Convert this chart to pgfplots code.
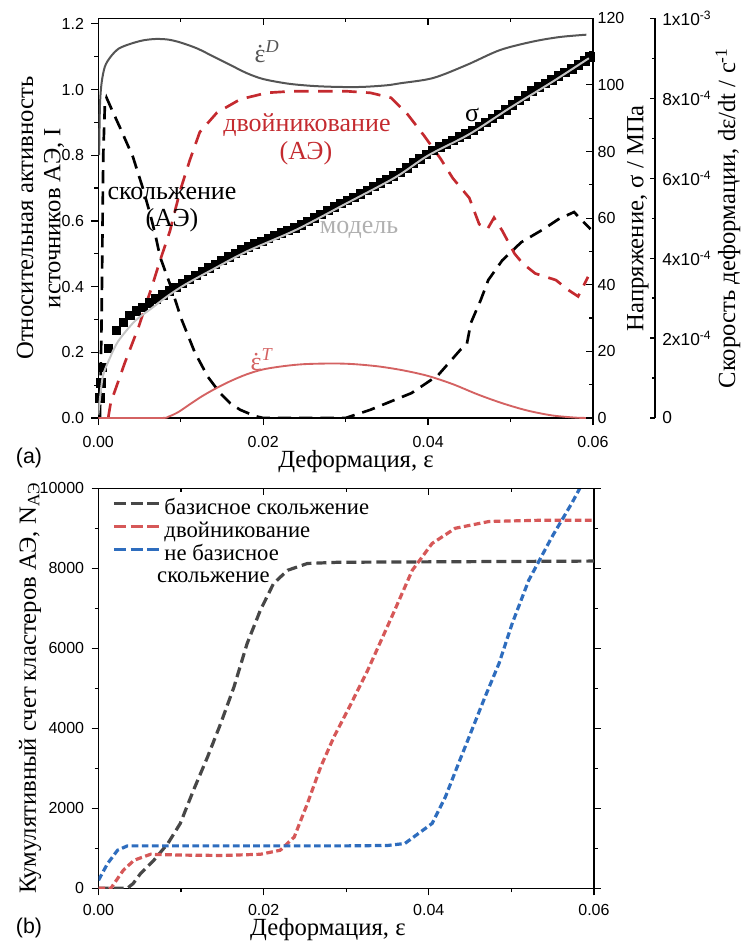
\documentclass[border=0pt]{standalone}
\usepackage{fontspec}
\setmainfont{Liberation Serif}
\newfontfamily\sansf{Liberation Sans}
\usepackage{pgfplots}
\pgfplotsset{compat=1.18}

\definecolor{dgray}{HTML}{555555}
\definecolor{tred}{HTML}{C42A2F}
\definecolor{lred}{HTML}{D46262}
\definecolor{mgray}{HTML}{C4C4C4}
\definecolor{lblgray}{HTML}{B0B0B0}
\definecolor{bblack}{HTML}{474747}
\definecolor{bred}{HTML}{D65858}
\definecolor{bblue}{HTML}{2E6DBE}

\newcommand{\lbl}{\fontsize{18.5}{20.5}\selectfont}
\newcommand{\ann}{\fontsize{19.5}{22}\selectfont}
\newcommand{\tck}{\sansf\fontsize{12}{14}\selectfont}
\newcommand{\edot}{\ooalign{ε\cr\hidewidth˙\hidewidth\cr}}

\pgfplotsset{
  base/.style={
    scale only axis, xmin=0, xmax=0.06,
    major tick length=5.25pt, minor tick length=3pt,
    axis line style={line width=0.9pt},
    every tick/.style={line width=0.9pt, black},
    tick label style={font=\tck},
    /pgf/number format/assume math mode=true,
    scaled x ticks=false, scaled y ticks=false,
    clip mode=individual,
  }
}

\begin{document}
\begin{tikzpicture}

% ---------------- (a) main axis ----------------
\begin{axis}[base,
  at={(73.725pt,-313.5pt)}, anchor=south west,
  width=371pt, height=299.8pt,
  ymin=0, ymax=1.217,
  xtick={0,0.02,0.04,0.06}, minor xtick={0.01,0.03,0.05},
  ytick={0,0.2,0.4,0.6,0.8,1.0,1.2}, minor ytick={0.1,0.3,0.5,0.7,0.9,1.1},
  xtick pos=bottom, ytick pos=left, tick align=outside,
  xticklabel style={yshift=-5pt, /pgf/number format/fixed, /pgf/number format/fixed zerofill, /pgf/number format/precision=2},
  yticklabel style={xshift=-2pt, /pgf/number format/fixed, /pgf/number format/fixed zerofill, /pgf/number format/precision=1},
  xlabel={Деформация, ε},
  xlabel style={font=\lbl, at={(axis description cs:0.521,-0.110)}, anchor=center},
  ylabel={Относительная активность\\источников АЭ, I},
  ylabel style={font=\lbl, align=center, at={(axis description cs:-0.117,0.5)}, anchor=center},
]
% strain rate D
\addplot[dgray, line width=1.5pt, smooth, tension=0.5] coordinates {
(0.0001,0.80) (0.0002,0.95) (0.0004,1.02) (0.0008,1.07) (0.0015,1.10) (0.0025,1.125)
(0.004,1.14) (0.0055,1.15) (0.007,1.154) (0.0085,1.152) (0.010,1.143) (0.012,1.125)
(0.014,1.10) (0.016,1.075) (0.018,1.05) (0.020,1.032) (0.023,1.018) (0.026,1.011)
(0.029,1.008) (0.032,1.008) (0.035,1.013) (0.0366,1.019) (0.0406,1.035) (0.0447,1.075)
(0.0487,1.12) (0.0527,1.146) (0.056,1.16) (0.0592,1.167)};
% slip AE
\addplot[black, line width=2pt, dash pattern=on 10pt off 6pt] coordinates {
(0.0002,0) (0.0004,0.3) (0.0006,0.8) (0.0008,0.955) (0.0010,0.975) (0.0018,0.93)
(0.0026,0.886) (0.0042,0.795) (0.0054,0.70) (0.0063,0.62) (0.0069,0.56) (0.0075,0.49)
(0.0088,0.40) (0.0101,0.30) (0.0117,0.20) (0.0133,0.125) (0.0148,0.075) (0.016,0.045)
(0.0172,0.025) (0.019,0.006) (0.020,0) (0.030,0) (0.033,0.025) (0.038,0.076)
(0.0412,0.13) (0.0440,0.21) (0.0447,0.225) (0.0452,0.29) (0.0464,0.36) (0.0473,0.42)
(0.049,0.48) (0.0513,0.535) (0.054,0.575) (0.0558,0.605) (0.0577,0.627) (0.0597,0.575)};
% twinning AE
\addplot[tred, line width=2pt, dash pattern=on 11pt off 7pt] coordinates {
(0.0012,0) (0.0015,0.046) (0.0032,0.167) (0.0049,0.278) (0.0065,0.40) (0.0075,0.48)
(0.0087,0.57) (0.0099,0.69) (0.0111,0.785) (0.0123,0.87) (0.0144,0.93) (0.0172,0.97)
(0.0204,0.99) (0.0236,0.995) (0.030,0.995) (0.0330,0.99) (0.0355,0.975) (0.0375,0.925)
(0.0395,0.86) (0.0415,0.79) (0.0430,0.73) (0.0450,0.67) (0.0462,0.59) (0.0472,0.575)
(0.0480,0.61) (0.0490,0.57) (0.0505,0.50) (0.0515,0.47) (0.0530,0.44) (0.0555,0.42)
(0.0570,0.39) (0.0582,0.37) (0.0594,0.43)};
% strain rate T
\addplot[lred, line width=1.4pt, smooth, tension=0.5] coordinates {
(0,0) (0.0075,0) (0.0085,0.004) (0.0097,0.018) (0.011,0.04) (0.0125,0.065) (0.0141,0.088)
(0.016,0.112) (0.018,0.133) (0.020,0.148) (0.0225,0.158) (0.025,0.164) (0.0285,0.166)
(0.031,0.164) (0.034,0.157) (0.037,0.145) (0.040,0.128) (0.043,0.103) (0.046,0.072)
(0.049,0.045) (0.052,0.023) (0.055,0.008) (0.058,0.001) (0.06,0)};

\node[font=\ann, text=dgray, inner sep=0] at (axis cs:0.02046,1.115) {\edot\textsuperscript{\textit{D}}};
\node[font=\ann, text=tred, inner sep=0] at (axis cs:0.02531,0.892) {двойникование};
\node[font=\ann, text=tred, inner sep=0] at (axis cs:0.02519,0.807) {(АЭ)};
\node[font=\ann, inner sep=0] at (axis cs:0.00894,0.685) {скольжение};
\node[font=\ann, inner sep=0] at (axis cs:0.00894,0.603) {(АЭ)};
\node[font=\ann, text=lblgray, inner sep=0] at (axis cs:0.03162,0.572) {модель};
\node[font=\ann, inner sep=0] at (axis cs:0.04533,0.923) {σ};
\node[font=\ann, text=lred, inner sep=0] at (axis cs:0.01986,0.177) {\edot\textsuperscript{\textit{T}}};
\end{axis}

% ---------------- (a) stress axis ----------------
\begin{axis}[base,
  at={(73.725pt,-313.5pt)}, anchor=south west,
  width=371pt, height=299.8pt,
  ymin=0, ymax=120,
  axis x line*=top, axis y line*=right,
  tick align=inside,
  xtick={0,0.02,0.04,0.06}, minor xtick={0.01,0.03,0.05}, xticklabels={},
  ytick={0,20,40,60,80,100,120}, minor ytick={10,30,50,70,90,110},
  ylabel={Напряжение, σ / МПа},
  ylabel style={font=\lbl, at={(axis description cs:1.091,0.5)}, anchor=center},
]
\addplot[only marks, mark=square*, mark size=3.2pt, black] coordinates {
(0.0002,6) (0.0003,10.5) (0.0005,15.3) (0.0012,21) (0.0022,26.4) (0.0030,28.8)
(0.0038,30.8) (0.0046,32.2) (0.0054,33.3) (0.0062,34.6) (0.0070,35.8) (0.0078,37.0)
(0.0086,38.2) (0.0094,39.3) (0.0102,40.4) (0.0110,41.6) (0.0118,42.8) (0.0126,44.0)
(0.0134,45.1) (0.0142,46.2) (0.0150,47.3) (0.0158,48.4) (0.0166,49.5) (0.0174,50.5)
(0.0182,51.4) (0.0190,52.3) (0.0198,53.1) (0.0206,54.0) (0.0214,54.8) (0.0222,55.6)
(0.0230,56.3) (0.0238,57.1) (0.0246,58.0) (0.0254,59.0) (0.0262,60.1) (0.0270,61.2)
(0.0278,62.3) (0.0286,63.4) (0.0294,64.4) (0.0302,65.3) (0.0310,66.3) (0.0318,67.3)
(0.0326,68.4) (0.0334,69.5) (0.0342,70.6) (0.0350,71.6) (0.0358,72.7) (0.0366,73.8)
(0.0374,75.2) (0.0382,76.6) (0.0390,77.9) (0.0398,79.2) (0.0406,80.4) (0.0414,81.4)
(0.0422,82.4) (0.0430,83.4) (0.0438,84.4) (0.0446,85.3) (0.0454,86.4) (0.0462,87.6)
(0.0470,88.8) (0.0478,90.0) (0.0486,91.2) (0.0494,92.6) (0.0502,94.0) (0.0510,95.4)
(0.0518,96.8) (0.0526,98.2) (0.0534,99.4) (0.0542,100.5) (0.0550,101.6) (0.0558,102.7)
(0.0566,103.8) (0.0574,104.9) (0.0582,106.0) (0.0590,107.2) (0.0596,108.5)};
\addplot[mgray, line width=1.5pt, smooth] coordinates {
(0,1) (0.0003,8) (0.0006,13) (0.0014,18) (0.0024,23) (0.0044,29) (0.0065,33)
(0.0084,36.6) (0.0105,40) (0.0138,44.5) (0.018,50) (0.024,56.5) (0.030,64.3)
(0.036,72.2) (0.040,78.8) (0.045,85.2) (0.050,93.2) (0.055,100.8) (0.0595,108)};
\end{axis}

% ---------------- (a) strain-rate axis ----------------
\begin{axis}[base,
  at={(73.725pt,-313.5pt)}, anchor=south west,
  width=417.5pt, height=299.8pt,
  xmin=0, xmax=1, ymin=0, ymax=0.001,
  axis x line=none, axis y line*=right,
  tick align=inside,
  major tick length=3.5pt, minor tick length=2.5pt,
  ytick={0,0.0002,0.0004,0.0006,0.0008,0.001},
  minor ytick={0.0001,0.0003,0.0005,0.0007,0.0009},
  yticklabel style={font=\sansf\fontsize{13}{15}\selectfont, xshift=2pt},
  yticklabels={0, 2x10\textsuperscript{-4}, 4x10\textsuperscript{-4}, 6x10\textsuperscript{-4}, 8x10\textsuperscript{-4}, 1x10\textsuperscript{-3}},
  ylabel={Скорость деформации, dε/dt / с\textsuperscript{-1}},
  ylabel style={font=\lbl, at={(axis description cs:1.131,0.5)}, anchor=center},
]
\addplot[draw=none] coordinates {(0,0)};
\end{axis}

% ---------------- (b) ----------------
\begin{axis}[base,
  at={(73.875pt,-666.2pt)}, anchor=south west,
  width=371.6pt, height=300pt,
  ymin=0, ymax=10000,
  xtick={0,0.02,0.04,0.06}, minor xtick={0.01,0.03,0.05},
  ytick={0,2000,4000,6000,8000,10000}, minor ytick={1000,3000,5000,7000,9000},
  xtick pos=bottom, ytick pos=both, yticklabel pos=left, tick align=outside,
  xticklabel style={yshift=-3pt, /pgf/number format/fixed, /pgf/number format/fixed zerofill, /pgf/number format/precision=2},
  yticklabel style={xshift=-2pt, /pgf/number format/1000 sep={}},
  xlabel={Деформация, ε},
  xlabel style={font=\lbl, at={(axis description cs:0.463,-0.104)}, anchor=center},
  ylabel={Кумулятивный счет кластеров АЭ, N\textsubscript{АЭ}},
  ylabel style={font=\lbl, at={(axis description cs:-0.138,0.5)}, anchor=center},
  legend style={at={(axis description cs:0.0192,0.981)}, anchor=north west, draw=none, fill=none,
    font=\fontsize{17}{19}\selectfont, row sep=1.25pt, column sep=2.5pt,
    nodes={inner sep=0.5pt, text height=11.5pt, text depth=3.5pt}, cells={anchor=west}},
  legend image code/.code={\draw[#1, dash pattern=on 9pt off 3.5pt] (0pt,4.5pt) -- (33.75pt,4.5pt);},
]
\addplot[bblack, line width=2.4pt, dash pattern=on 7.5pt off 3.75pt] coordinates {
(0,0) (0.0035,0) (0.0042,120) (0.0051,370) (0.0067,700) (0.0084,1120) (0.0099,1620)
(0.0115,2450) (0.0132,3280) (0.0148,4120) (0.0164,5030) (0.018,6120) (0.0196,6950)
(0.0212,7620) (0.0229,7950) (0.0253,8120) (0.029,8150) (0.060,8180)};
\addlegendentry{базисное скольжение}
\addplot[bred, line width=2.4pt, dash pattern=on 5pt off 2.6pt] coordinates {
(0,0) (0.0015,0) (0.003,450) (0.0043,700) (0.0063,850) (0.010,830) (0.015,820)
(0.0196,850) (0.022,950) (0.0237,1280) (0.0253,2120) (0.0269,3030) (0.0285,3780)
(0.0306,4620) (0.0326,5450) (0.0355,6780) (0.038,7950) (0.0404,8620) (0.0432,9000)
(0.0473,9170) (0.0535,9200) (0.060,9200)};
\addlegendentry{двойникование}
\addplot[bblue, line width=2.4pt, dash pattern=on 5pt off 2.6pt] coordinates {
(0,200) (0.0011,620) (0.0023,950) (0.0035,1060) (0.010,1060) (0.020,1060) (0.030,1060)
(0.035,1070) (0.0371,1120) (0.0404,1620) (0.042,2280) (0.0436,3120) (0.0452,3950)
(0.0468,4780) (0.0485,5620) (0.0501,6620) (0.0521,7700) (0.0549,8780) (0.0573,9620)
(0.0592,10350)};
\addlegendentry{не базисное}
\node[font=\fontsize{17}{19}\selectfont, inner sep=0, anchor=west] at (axis description cs:0.118,0.778) {скольжение};
\end{axis}

% (b) top ticks inward
\begin{axis}[base,
  at={(73.875pt,-666.2pt)}, anchor=south west,
  width=371.6pt, height=300pt,
  ymin=0, ymax=10000,
  axis x line*=top, axis y line=none, tick align=inside,
  xtick={0,0.02,0.04,0.06}, minor xtick={0.01,0.03,0.05}, xticklabels={},
]
\addplot[draw=none] coordinates {(0,0)};
\end{axis}

\node[font=\sansf\fontsize{16}{18}\selectfont, inner sep=0] at (21.75pt,-343.5pt) {(a)};
\node[font=\sansf\fontsize{16}{18}\selectfont, inner sep=0] at (21.75pt,-696pt) {(b)};

\pgfresetboundingbox
\path[use as bounding box] (0,0) rectangle (556.5pt,-706.5pt);
\end{tikzpicture}
\end{document}
